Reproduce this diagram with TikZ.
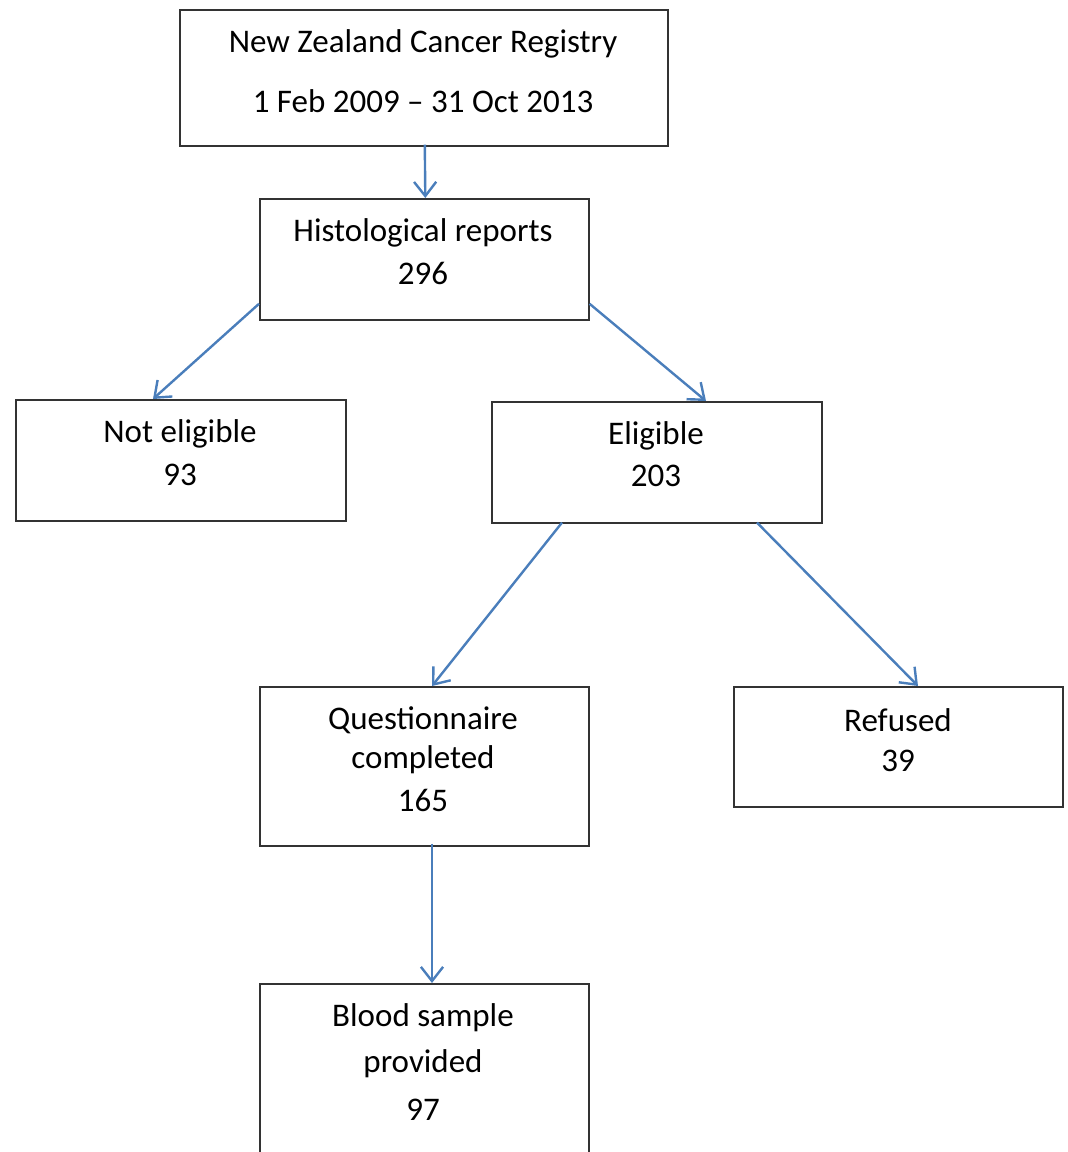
\documentclass[tikz,border=0pt]{standalone}
\usepackage{fontspec}
\setmainfont{Carlito}
\usetikzlibrary{arrows.meta}
\definecolor{arrowblue}{HTML}{4A7EBB}
\definecolor{boxgray}{HTML}{333333}
\tikzset{
  box/.style={draw=boxgray, line width=1.6pt, anchor=north west, inner sep=0pt},
  txt/.style={font=\fontsize{33}{38}\selectfont, text=black, inner sep=0pt, yshift=-2pt},
  arr/.style={draw=arrowblue, line width=2.4pt, -{Straight Barb[angle=76:18pt, line width=2.4pt]}},
}
\begin{document}
\begin{tikzpicture}[x=1pt, y=-1pt]
\useasboundingbox (0,0) rectangle (1068,1152);
\clip (0,0) rectangle (1068,1152);
% boxes
\node[box, minimum width=488pt, minimum height=136pt] (reg) at (179,9) {};
\node[box, minimum width=329pt, minimum height=121pt] (hist) at (259,198) {};
\node[box, minimum width=330pt, minimum height=121pt] (noel) at (15,399) {};
\node[box, minimum width=330pt, minimum height=121pt] (elig) at (491,401) {};
\node[box, minimum width=329pt, minimum height=159pt] (quest) at (259,686) {};
\node[box, minimum width=329pt, minimum height=120pt] (ref) at (733,686) {};
\node[box, minimum width=329pt, minimum height=190pt] (blood) at (259,983) {};
% texts
\node[txt] (reg1) at (423,42) {New Zealand Cancer Registry};
\node[txt] (reg2) at (423,99) {1 Feb 2009 – 31 Oct 2013};
\node[txt] (hist1) at (423,231) {Histological reports};
\node[txt] (hist2) at (423,271) {296};
\node[txt] (noel1) at (180,432) {Not eligible};
\node[txt] (noel2) at (180,473) {93};
\node[txt] (elig1) at (656,434) {Eligible};
\node[txt] (elig2) at (656,474) {203};
\node[txt] (quest1) at (423,718) {Questionnaire};
\node[txt] (quest2) at (423,758) {completed};
\node[txt] (quest3) at (423,798) {165};
\node[txt] (ref1) at (898,718) {Refused};
\node[txt] (ref2) at (898,759) {39};
\node[txt] (blood1) at (423,1016) {Blood sample};
\node[txt] (blood2) at (423,1062) {provided};
\node[txt] (blood3) at (423,1108) {97};
% connectors
\draw[arr] ([xshift=1pt,yshift=2pt]reg.south) -- ([xshift=1pt]hist.north);
\draw[arr] ([yshift=-44.5pt]hist.west) -- ([xshift=138pt]noel.north west);
\draw[arr] ([yshift=-44.5pt]hist.east) -- ([xshift=215pt]elig.north west);
\draw[arr] ([xshift=71pt,yshift=1pt]elig.south west) -- ([xshift=173pt]quest.north west);
\draw[arr] ([xshift=266pt,yshift=1pt]elig.south west) -- ([xshift=185pt]ref.north west);
\draw[arr] ([xshift=173pt,yshift=3pt]quest.south west) -- ([xshift=173pt]blood.north west);
\end{tikzpicture}
\end{document}
